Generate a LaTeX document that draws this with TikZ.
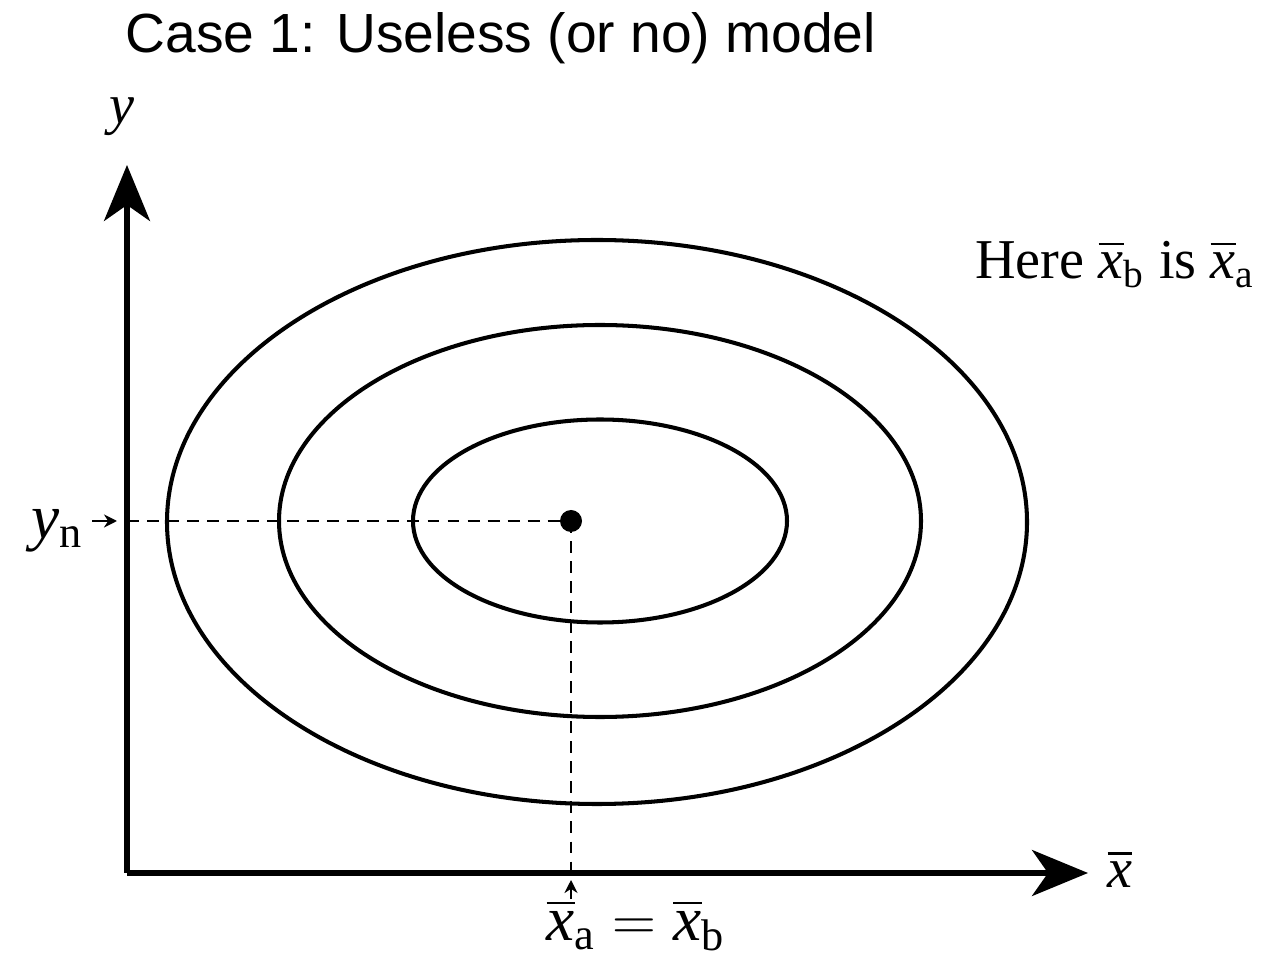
\documentclass[tikz,border=0pt]{standalone}
\usepackage{amsmath}
\usepackage{fontspec}
\setmainfont{Liberation Serif}
\newfontfamily\titlefont{Liberation Sans}
\usetikzlibrary{arrows.meta}

\tikzset{
  axis/.style={line width=1.45pt, -{Stealth[length=5.6mm,width=4.6mm,inset=1.6mm]}},
  contour/.style={line width=1.15pt},
  guide/.style={line width=0.6pt, dash pattern=on 3.4pt off 2.3pt},
  pointer/.style={line width=0.6pt, -{Stealth[length=1.3mm,width=1.3mm]}},
  lbl/.style={font=\fontsize{16}{18}\selectfont, inner sep=0pt},
  biglbl/.style={font=\fontsize{18}{20}\selectfont, inner sep=0pt}
}

\newcommand{\xbar}{\overline{\textit{x}}}

\begin{document}
\begin{tikzpicture}
  \def \ox {1.27}
  \def \oy {0.88}
  \def \px {5.71}
  \def \py {4.40}

  \useasboundingbox (0,0) rectangle (12.67,9.61);

  % axes
  \coordinate (O) at (\ox,\oy);
  \coordinate (ytip) at (\ox,7.96);
  \coordinate (xtip) at (10.88,\oy);
  \draw[axis] (O) -- (ytip);
  \draw[axis] (O) -- (xtip);
  \node[lbl] (ylab) at (1.22,8.44) {\textit{y}};
  \node[lbl] (xlab) at (11.20,0.92) {$\xbar$};

  % contours
  \draw[contour] (5.97,4.39) ellipse (4.30 and 2.82);
  \draw[contour] (6.00,4.40) ellipse (3.21 and 1.96);
  \draw[contour] (6.00,4.40) ellipse (1.87 and 1.015);

  % background point and its projections
  \fill (\px,\py) circle (0.11);
  \coordinate (P) at (\px,\py);
  \coordinate (Py) at (\ox,\py);
  \coordinate (Px) at (\px,\oy);
  \draw[guide] (Py) -- (P);
  \draw[guide] (P) -- (Px);

  \node[biglbl, anchor=east] (yn) at (0.84,4.30) {\textit{y}\textsubscript{n}};
  \coordinate (ynend) at (1.17,\py);
  \draw[pointer] (0.92,\py) -- (ynend);

  \node[biglbl] (xa) at (6.36,0.36) {$\xbar_{\textrm{a}} = \xbar_{\textrm{b}}$};
  \coordinate (xaend) at (\px,0.81);
  \draw[pointer] (\px,0.62) -- (xaend);

  \node[lbl] (here) at (11.15,6.97)
    {Here $\xbar_{\textrm{b}}$ is $\xbar_{\textrm{a}}$};

  \node[anchor=west, inner sep=0pt, font=\titlefont\fontsize{15.7}{18}\selectfont] (title)
    at (1.25,9.23) {Case 1: Useless (or no) model};
\end{tikzpicture}
\end{document}
